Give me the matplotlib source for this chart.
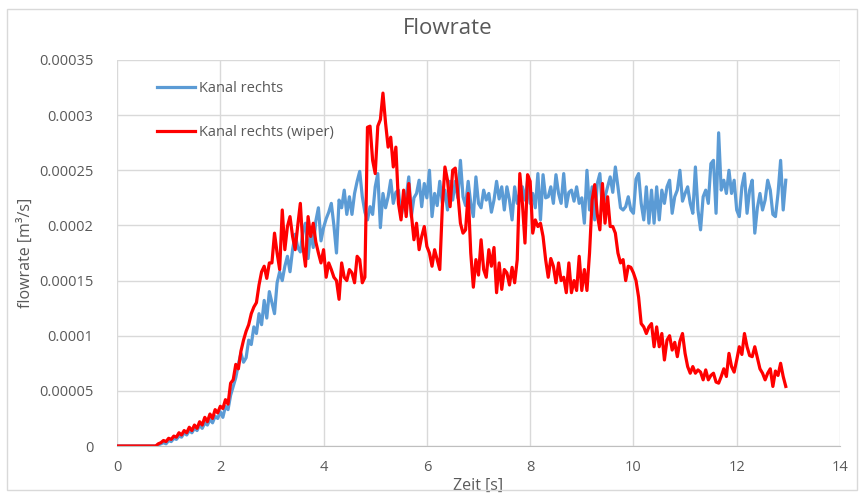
import numpy as np
import matplotlib
matplotlib.use("Agg")
import matplotlib.pyplot as plt
from matplotlib.patches import Rectangle

plt.rcParams['font.family'] = ['Open Sans', 'DejaVu Sans']

title = "Flowrate"
x_label = "Zeit [s]"
y_label = "flowrate [m³/s]"
series_names = ["Kanal rechts", "Kanal rechts (wiper)"]

t_start = 0.0
t_step = 0.05  # sampling interval [s]

# values in units of 1e-5 m^3/s
kanal_rechts = [
    0, 0, 0, 0, 0, 0, 0, 0, 0, 0, 0, 0, 0, 0, 0, 0,
    0.1, 0.2, 0.3, 0.2, 0.5, 0.4, 0.7, 0.6, 0.9, 0.8, 1.2, 1.0, 1.4, 1.2, 1.6, 1.4,
    1.9, 1.6, 2.1, 1.9, 2.4, 2.1, 2.7, 2.5,
    3.1, 2.6, 3.6, 3.3, 4.6, 5.4, 6.2, 7.4, 8.4, 7.6, 8.0, 9.6, 9.2, 10.8, 10.2, 12.0,
    11.0, 13.2, 11.6, 14.0,
    13.0, 12.0, 14.8, 15.8, 15.0, 16.3, 17.2, 15.8, 17.8, 19.2, 18.0, 17.6, 19.5, 20.2,
    17.0, 19.4, 18.0, 20.4, 21.6, 18.6,
    19.8, 20.6, 21.2, 22.0, 20.0, 17.5, 22.3, 21.6, 23.2, 21.0, 22.6, 21.0, 22.9, 24.0,
    24.9, 22.6, 21.2, 20.5, 21.7, 21.0,
    23.5, 24.7, 19.8, 22.9, 21.6, 22.6, 24.1, 22.0, 23.0, 23.2, 20.8, 22.0, 22.6, 24.4,
    20.8, 22.5, 22.9, 24.1, 21.7, 23.8,
    22.5, 25.0, 20.8, 22.9, 21.8, 24.0, 22.0, 23.2, 21.4, 24.0, 22.3, 24.0, 22.5, 25.9,
    22.6, 21.8, 24.0, 22.0, 20.8, 24.4,
    22.0, 21.6, 23.2, 22.3, 22.9, 21.2, 22.3, 24.0, 22.4, 23.5, 21.4, 23.5, 22.3, 20.5,
    23.5, 22.0, 22.9, 23.5, 22.3, 24.1,
    22.0, 22.9, 21.6, 24.7, 20.5, 24.6, 22.5, 22.6, 23.5, 22.0, 24.6, 22.9, 22.0, 24.7,
    21.7, 23.0, 23.2, 22.2, 23.5, 22.0,
    22.5, 20.2, 25.0, 21.4, 23.5, 20.5, 23.8, 24.7, 21.4, 22.6, 23.5, 24.4, 23.0, 25.3,
    23.5, 21.6, 21.4, 21.7, 22.6, 21.4,
    21.1, 24.2, 24.7, 22.0, 20.5, 23.5, 20.2, 23.2, 20.2, 23.5, 20.5, 23.2, 22.0, 23.5,
    24.1, 21.1, 22.6, 23.2, 25.0, 22.2,
    22.9, 23.5, 22.0, 21.1, 25.3, 21.4, 19.6, 22.6, 23.2, 22.0, 25.6, 25.9, 21.1, 28.4,
    23.2, 24.1, 22.9, 25.0, 22.9, 24.1,
    21.4, 20.8, 23.5, 24.7, 21.1, 23.2, 24.1, 19.3, 21.6, 22.9, 21.4, 22.3, 24.1, 23.2,
    21.0, 20.8, 22.9, 25.9, 21.4, 24.1,
]

kanal_rechts_wiper = [
    0, 0, 0, 0, 0, 0, 0, 0, 0, 0, 0, 0, 0, 0, 0, 0,
    0.2, 0.3, 0.5, 0.4, 0.7, 0.6, 0.9, 0.8, 1.2, 1.0, 1.4, 1.2, 1.7, 1.4, 1.9, 1.6,
    2.2, 1.9, 2.6, 2.2, 2.9, 2.5, 3.3, 3.0,
    3.6, 3.4, 4.2, 3.8, 5.7, 6.0, 7.4, 7.0, 8.6, 9.6, 10.4, 11.0, 12.0, 12.6, 13.0, 14.6,
    15.8, 16.3, 15.2, 16.6,
    16.6, 19.3, 17.5, 16.0, 21.4, 17.8, 19.9, 20.8, 19.0, 17.8, 20.0, 22.0, 18.1, 16.3,
    20.8, 19.0, 20.2, 18.5, 17.5, 16.6,
    17.8, 15.3, 16.6, 16.0, 15.3, 15.0, 13.3, 16.6, 15.3, 15.0, 16.0, 15.7, 14.8, 17.2,
    16.9, 14.8, 15.3, 28.9, 29.0, 25.9,
    24.7, 29.0, 29.6, 32.0, 29.3, 27.1, 28.0, 25.3, 27.1, 22.0, 20.5, 23.2, 20.8, 23.8,
    21.0, 18.7, 20.2, 17.8, 19.0, 19.9,
    18.1, 17.5, 16.3, 17.8, 16.9, 16.0, 21.7, 25.3, 24.1, 21.7, 25.0, 25.2, 22.9, 20.2,
    19.3, 19.6, 22.9, 17.5, 14.4, 16.9,
    15.5, 18.7, 16.0, 15.3, 17.8, 16.3, 18.0, 13.9, 16.6, 14.2, 16.0, 15.7, 14.6, 16.2,
    14.8, 16.9, 24.7, 22.0, 18.4, 24.6,
    24.0, 19.3, 20.5, 19.9, 20.2, 19.0, 16.9, 15.3, 17.0, 16.3, 14.8, 16.6, 15.0, 15.3,
    13.9, 16.6, 13.9, 15.0, 14.1, 17.2,
    14.1, 16.0, 14.1, 17.5, 22.3, 23.7, 21.0, 19.6, 23.8, 20.2, 22.6, 19.9, 19.9, 19.3,
    17.5, 16.6, 16.9, 15.0, 16.3, 16.2,
    15.7, 15.0, 13.5, 11.1, 10.8, 10.2, 10.8, 11.1, 9.0, 10.8, 9.0, 10.2, 7.8, 9.6,
    10.0, 8.7, 9.4, 8.1, 9.5, 10.2,
    8.4, 7.2, 6.6, 7.2, 6.6, 6.9, 6.7, 6.0, 6.9, 6.0, 6.4, 6.6, 5.8, 5.7,
    6.3, 7.0, 6.3, 8.4, 7.2, 6.7,
    7.8, 9.0, 8.3, 10.2, 9.0, 8.2, 8.1, 9.0, 8.0, 7.0, 6.6, 6.0, 6.6, 7.0,
    5.4, 6.8, 6.4, 7.5, 6.3, 5.4,
]

value_scale = 1e-5
x_ticks = [0, 2, 4, 6, 8, 10, 12, 14]
y_ticks = [0, 0.00005, 0.0001, 0.00015, 0.0002, 0.00025, 0.0003, 0.00035]
y_tick_labels = ["0", "0.00005", "0.0001", "0.00015", "0.0002", "0.00025", "0.0003", "0.00035"]

blue = "#5b9bd5"
red = "#ff0000"
text_gray = "#595959"
grid_gray = "#d9d9d9"

y1 = np.array(kanal_rechts) * value_scale
y2 = np.array(kanal_rechts_wiper) * value_scale
t1 = t_start + np.arange(len(y1)) * t_step
t2 = t_start + np.arange(len(y2)) * t_step

fig = plt.figure(figsize=(8.64, 4.95), dpi=100)
ax = fig.add_axes([117/864, 1-446/495, (840-117)/864, (446-60)/495])

ax.plot(t1, y1, color=blue, lw=2.3, label=series_names[0], solid_joinstyle='round')
ax.plot(t2, y2, color=red, lw=2.3, label=series_names[1], solid_joinstyle='round')

ax.set_xlim(0, 14)
ax.set_ylim(0, 0.00035)
ax.set_xticks(x_ticks)
ax.set_yticks(y_ticks, y_tick_labels)
ax.grid(True, color=grid_gray, lw=1.0)
ax.set_axisbelow(True)
for s in ['top', 'right', 'left']:
    ax.spines[s].set_visible(False)
ax.spines['bottom'].set_color('#bfbfbf')
ax.tick_params(axis='y', length=0, labelsize=10.5, colors=text_gray, pad=17)
ax.tick_params(axis='x', length=0, labelsize=10.5, colors=text_gray, pad=10)

ax.set_xlabel(x_label, fontsize=11.5, color=text_gray, labelpad=2)
ax.set_ylabel(y_label, fontsize=11.5, color=text_gray, labelpad=4)

fig.text(448/864, 1-28/495, title, ha='center', va='center', fontsize=16, color=text_gray)

leg = ax.legend(loc='upper left', bbox_to_anchor=(0.037, 0.98), frameon=False,
                fontsize=10.5, handlelength=2.6, labelspacing=2.0, handletextpad=0.3,
                labelcolor=text_gray)

fig.patches.append(Rectangle((7/864, 1-490/495), (857-7)/864, (490-9)/495,
                             transform=fig.transFigure, fill=False,
                             edgecolor=grid_gray, lw=1.0))

fig.savefig("out.png", dpi=100)
